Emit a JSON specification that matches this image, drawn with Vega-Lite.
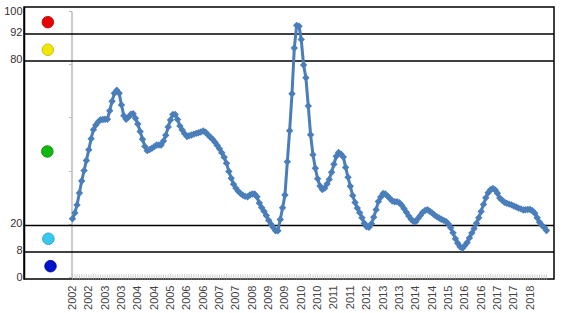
{
  "$schema": "https://vega.github.io/schema/vega-lite/v6.json",
  "width": 530,
  "height": 272,
  "autosize": "none",
  "padding": {"left": 24, "top": 7, "right": 12, "bottom": 34},
  "background": "white",
  "config": {
    "view": {"stroke": "#000", "strokeWidth": 1.5},
    "font": "Liberation Sans",
    "axis": {"grid": false}
  },
  "datasets": {
    "bands": [{"v": 8}, {"v": 20}, {"v": 80}, {"v": 92}],
    "dots": [
      {"band": "red", "px": 4.5, "v": 95.5},
      {"band": "yellow", "px": 4.5, "v": 85},
      {"band": "green", "px": 4.4, "v": 47},
      {"band": "cyan", "px": 4.6, "v": 14},
      {"band": "blue", "px": 5.0, "v": 3.8}
    ],
    "series": [
      {"d": "2002-01-01", "v": 21.9}, {"d": "2002-02-01", "v": 24.1}, {"d": "2002-03-01", "v": 27.1}, {"d": "2002-04-01", "v": 31.6}, {"d": "2002-05-01", "v": 36.1}, {"d": "2002-06-01", "v": 40.0}, {"d": "2002-07-01", "v": 43.8}, {"d": "2002-08-01", "v": 47.8}, {"d": "2002-09-01", "v": 52.0}, {"d": "2002-10-01", "v": 55.4}, {"d": "2002-11-01", "v": 57.1}, {"d": "2002-12-01", "v": 58.3},
      {"d": "2003-01-01", "v": 59.1}, {"d": "2003-02-01", "v": 59.2}, {"d": "2003-03-01", "v": 59.3}, {"d": "2003-04-01", "v": 59.3}, {"d": "2003-05-01", "v": 62.5}, {"d": "2003-06-01", "v": 66.1}, {"d": "2003-07-01", "v": 69.1}, {"d": "2003-08-01", "v": 70.2}, {"d": "2003-09-01", "v": 69.1}, {"d": "2003-10-01", "v": 64.7}, {"d": "2003-11-01", "v": 60.6}, {"d": "2003-12-01", "v": 59.3},
      {"d": "2004-01-01", "v": 60.1}, {"d": "2004-02-01", "v": 61.2}, {"d": "2004-03-01", "v": 61.4}, {"d": "2004-04-01", "v": 59.7}, {"d": "2004-05-01", "v": 57.5}, {"d": "2004-06-01", "v": 54.7}, {"d": "2004-07-01", "v": 51.8}, {"d": "2004-08-01", "v": 49.1}, {"d": "2004-09-01", "v": 47.5}, {"d": "2004-10-01", "v": 47.9}, {"d": "2004-11-01", "v": 48.4}, {"d": "2004-12-01", "v": 49.0},
      {"d": "2005-01-01", "v": 49.6}, {"d": "2005-02-01", "v": 49.6}, {"d": "2005-03-01", "v": 49.6}, {"d": "2005-04-01", "v": 51.1}, {"d": "2005-05-01", "v": 53.3}, {"d": "2005-06-01", "v": 56.4}, {"d": "2005-07-01", "v": 59.0}, {"d": "2005-08-01", "v": 61.1}, {"d": "2005-09-01", "v": 61.1}, {"d": "2005-10-01", "v": 59.2}, {"d": "2005-11-01", "v": 56.8}, {"d": "2005-12-01", "v": 55.3},
      {"d": "2006-01-01", "v": 53.9}, {"d": "2006-02-01", "v": 52.8}, {"d": "2006-03-01", "v": 53.1}, {"d": "2006-04-01", "v": 53.4}, {"d": "2006-05-01", "v": 53.7}, {"d": "2006-06-01", "v": 54.0}, {"d": "2006-07-01", "v": 54.2}, {"d": "2006-08-01", "v": 54.5}, {"d": "2006-09-01", "v": 54.9}, {"d": "2006-10-01", "v": 54.4}, {"d": "2006-11-01", "v": 53.5}, {"d": "2006-12-01", "v": 52.6},
      {"d": "2007-01-01", "v": 51.8}, {"d": "2007-02-01", "v": 50.7}, {"d": "2007-03-01", "v": 49.5}, {"d": "2007-04-01", "v": 48.2}, {"d": "2007-05-01", "v": 46.7}, {"d": "2007-06-01", "v": 45.0}, {"d": "2007-07-01", "v": 42.8}, {"d": "2007-08-01", "v": 39.7}, {"d": "2007-09-01", "v": 37.1}, {"d": "2007-10-01", "v": 34.9}, {"d": "2007-11-01", "v": 33.4}, {"d": "2007-12-01", "v": 32.2},
      {"d": "2008-01-01", "v": 31.4}, {"d": "2008-02-01", "v": 30.7}, {"d": "2008-03-01", "v": 30.3}, {"d": "2008-04-01", "v": 30.2}, {"d": "2008-05-01", "v": 30.8}, {"d": "2008-06-01", "v": 31.2}, {"d": "2008-07-01", "v": 31.2}, {"d": "2008-08-01", "v": 30.2}, {"d": "2008-09-01", "v": 27.8}, {"d": "2008-10-01", "v": 26.1}, {"d": "2008-11-01", "v": 24.7}, {"d": "2008-12-01", "v": 23.1},
      {"d": "2009-01-01", "v": 21.3}, {"d": "2009-02-01", "v": 19.8}, {"d": "2009-03-01", "v": 18.6}, {"d": "2009-04-01", "v": 17.4}, {"d": "2009-05-01", "v": 17.4}, {"d": "2009-06-01", "v": 21.6}, {"d": "2009-07-01", "v": 26.0}, {"d": "2009-08-01", "v": 30.8}, {"d": "2009-09-01", "v": 43.3}, {"d": "2009-10-01", "v": 55.0}, {"d": "2009-11-01", "v": 68.9}, {"d": "2009-12-01", "v": 86.1},
      {"d": "2010-01-01", "v": 94.6}, {"d": "2010-02-01", "v": 94.3}, {"d": "2010-03-01", "v": 89.3}, {"d": "2010-04-01", "v": 79.7}, {"d": "2010-05-01", "v": 74.9}, {"d": "2010-06-01", "v": 64.3}, {"d": "2010-07-01", "v": 53.5}, {"d": "2010-08-01", "v": 46.0}, {"d": "2010-09-01", "v": 40.9}, {"d": "2010-10-01", "v": 36.9}, {"d": "2010-11-01", "v": 34.2}, {"d": "2010-12-01", "v": 32.9},
      {"d": "2011-01-01", "v": 33.4}, {"d": "2011-02-01", "v": 35.0}, {"d": "2011-03-01", "v": 36.7}, {"d": "2011-04-01", "v": 39.4}, {"d": "2011-05-01", "v": 42.4}, {"d": "2011-06-01", "v": 45.4}, {"d": "2011-07-01", "v": 46.8}, {"d": "2011-08-01", "v": 46.2}, {"d": "2011-09-01", "v": 45.1}, {"d": "2011-10-01", "v": 41.2}, {"d": "2011-11-01", "v": 37.5}, {"d": "2011-12-01", "v": 34.1},
      {"d": "2012-01-01", "v": 30.6}, {"d": "2012-02-01", "v": 28.0}, {"d": "2012-03-01", "v": 25.9}, {"d": "2012-04-01", "v": 24.2}, {"d": "2012-05-01", "v": 22.3}, {"d": "2012-06-01", "v": 20.2}, {"d": "2012-07-01", "v": 18.9}, {"d": "2012-08-01", "v": 18.7}, {"d": "2012-09-01", "v": 20.0}, {"d": "2012-10-01", "v": 22.5}, {"d": "2012-11-01", "v": 25.3}, {"d": "2012-12-01", "v": 28.4},
      {"d": "2013-01-01", "v": 30.1}, {"d": "2013-02-01", "v": 31.4}, {"d": "2013-03-01", "v": 31.2}, {"d": "2013-04-01", "v": 30.4}, {"d": "2013-05-01", "v": 29.5}, {"d": "2013-06-01", "v": 28.6}, {"d": "2013-07-01", "v": 28.3}, {"d": "2013-08-01", "v": 28.3}, {"d": "2013-09-01", "v": 27.9}, {"d": "2013-10-01", "v": 27.0}, {"d": "2013-11-01", "v": 25.7}, {"d": "2013-12-01", "v": 24.3},
      {"d": "2014-01-01", "v": 22.9}, {"d": "2014-02-01", "v": 21.7}, {"d": "2014-03-01", "v": 20.9}, {"d": "2014-04-01", "v": 20.8}, {"d": "2014-05-01", "v": 22.0}, {"d": "2014-06-01", "v": 23.1}, {"d": "2014-07-01", "v": 24.3}, {"d": "2014-08-01", "v": 25.0}, {"d": "2014-09-01", "v": 25.3}, {"d": "2014-10-01", "v": 24.7}, {"d": "2014-11-01", "v": 24.1}, {"d": "2014-12-01", "v": 23.3},
      {"d": "2015-01-01", "v": 22.7}, {"d": "2015-02-01", "v": 22.2}, {"d": "2015-03-01", "v": 21.7}, {"d": "2015-04-01", "v": 21.3}, {"d": "2015-05-01", "v": 20.9}, {"d": "2015-06-01", "v": 19.9}, {"d": "2015-07-01", "v": 18.5}, {"d": "2015-08-01", "v": 16.6}, {"d": "2015-09-01", "v": 14.4}, {"d": "2015-10-01", "v": 12.7}, {"d": "2015-11-01", "v": 11.4}, {"d": "2015-12-01", "v": 10.8},
      {"d": "2016-01-01", "v": 11.8}, {"d": "2016-02-01", "v": 13.0}, {"d": "2016-03-01", "v": 14.7}, {"d": "2016-04-01", "v": 16.5}, {"d": "2016-05-01", "v": 18.2}, {"d": "2016-06-01", "v": 20.2}, {"d": "2016-07-01", "v": 22.3}, {"d": "2016-08-01", "v": 24.6}, {"d": "2016-09-01", "v": 27.3}, {"d": "2016-10-01", "v": 29.8}, {"d": "2016-11-01", "v": 31.7}, {"d": "2016-12-01", "v": 32.8},
      {"d": "2017-01-01", "v": 33.3}, {"d": "2017-02-01", "v": 32.7}, {"d": "2017-03-01", "v": 31.5}, {"d": "2017-04-01", "v": 29.7}, {"d": "2017-05-01", "v": 28.9}, {"d": "2017-06-01", "v": 28.1}, {"d": "2017-07-01", "v": 27.7}, {"d": "2017-08-01", "v": 27.4}, {"d": "2017-09-01", "v": 27.1}, {"d": "2017-10-01", "v": 26.7}, {"d": "2017-11-01", "v": 26.3}, {"d": "2017-12-01", "v": 25.9},
      {"d": "2018-01-01", "v": 25.6}, {"d": "2018-02-01", "v": 25.2}, {"d": "2018-03-01", "v": 25.3}, {"d": "2018-04-01", "v": 25.4}, {"d": "2018-05-01", "v": 25.4}, {"d": "2018-06-01", "v": 24.9}, {"d": "2018-07-01", "v": 24.0}, {"d": "2018-08-01", "v": 22.3}, {"d": "2018-09-01", "v": 20.6}, {"d": "2018-10-01", "v": 19.5}, {"d": "2018-11-01", "v": 18.6}, {"d": "2018-12-01", "v": 17.5}
    ]
  },
  "layer": [
    {
      "layer": [
        {
          "data": {"name": "bands"},
          "mark": {"type": "rule", "color": "#000", "strokeWidth": 1.5},
          "encoding": {
            "y": {
              "field": "v",
              "type": "quantitative",
              "scale": {"domain": [0, 8, 20, 80, 92, 100], "range": [272, 245, 218.5, 54, 27, 0], "nice": false, "zero": false},
              "axis": {
                "orient": "left",
                "values": [0, 8, 20, 80, 92, 100],
                "title": null,
                "domain": true,
                "domainColor": "#000",
                "domainWidth": 1.5,
                "ticks": false,
                "tickSize": 0,
                "labelPadding": 2,
                "labelFont": "Liberation Sans",
                "labelFontSize": 11,
                "labelColor": "#3a3030",
                "labelOffset": {"condition": {"test": "datum.value == 100", "value": 4}, "value": -2}
              }
            }
          }
        },
        {
          "data": {"name": "dots"},
          "mark": {"type": "circle", "opacity": 1, "size": 135, "strokeWidth": 0.8},
          "encoding": {
            "x": {"field": "px", "type": "quantitative", "scale": {"domain": [0, 100]}, "axis": null},
            "y": {"field": "v", "type": "quantitative"},
            "color": {
              "field": "band",
              "type": "nominal",
              "scale": {"domain": ["red", "yellow", "green", "cyan", "blue"], "range": ["#e80000", "#f0e800", "#10b810", "#38c8ec", "#0010d0"]},
              "legend": null
            },
            "stroke": {
              "field": "band",
              "type": "nominal",
              "scale": {"domain": ["red", "yellow", "green", "cyan", "blue"], "range": ["#b00000", "#c0b000", "#008800", "#1898c0", "#000090"]},
              "legend": null
            }
          }
        }
      ]
    },
    {
      "data": {"name": "series"},
      "encoding": {
        "x": {
          "field": "d",
          "type": "temporal",
          "scale": {
            "type": "utc",
            "domain": [{"year": 2002, "month": 1, "date": 1, "utc": true}, {"year": 2018, "month": 12, "date": 1, "utc": true}],
            "range": [48.5, 522.5],
            "nice": false
          },
          "axis": {
            "orient": "bottom",
            "title": null,
            "domain": false,
            "ticks": false,
            "tickSize": 0,
            "labelPadding": 6,
            "labelAngle": -90,
            "labelFont": "Liberation Sans",
            "labelFontSize": 11,
            "labelColor": "#444",
            "labelOverlap": false,
            "labelFlush": false,
            "format": "%Y",
            "values": [
              {"year": 2002, "month": 1, "date": 1, "utc": true},
              {"year": 2002, "month": 8, "date": 1, "utc": true},
              {"year": 2003, "month": 3, "date": 1, "utc": true},
              {"year": 2003, "month": 10, "date": 1, "utc": true},
              {"year": 2004, "month": 5, "date": 1, "utc": true},
              {"year": 2004, "month": 12, "date": 1, "utc": true},
              {"year": 2005, "month": 7, "date": 1, "utc": true},
              {"year": 2006, "month": 2, "date": 1, "utc": true},
              {"year": 2006, "month": 9, "date": 1, "utc": true},
              {"year": 2007, "month": 4, "date": 1, "utc": true},
              {"year": 2007, "month": 11, "date": 1, "utc": true},
              {"year": 2008, "month": 6, "date": 1, "utc": true},
              {"year": 2009, "month": 1, "date": 1, "utc": true},
              {"year": 2009, "month": 8, "date": 1, "utc": true},
              {"year": 2010, "month": 3, "date": 1, "utc": true},
              {"year": 2010, "month": 10, "date": 1, "utc": true},
              {"year": 2011, "month": 5, "date": 1, "utc": true},
              {"year": 2011, "month": 12, "date": 1, "utc": true},
              {"year": 2012, "month": 7, "date": 1, "utc": true},
              {"year": 2013, "month": 2, "date": 1, "utc": true},
              {"year": 2013, "month": 9, "date": 1, "utc": true},
              {"year": 2014, "month": 4, "date": 1, "utc": true},
              {"year": 2014, "month": 11, "date": 1, "utc": true},
              {"year": 2015, "month": 6, "date": 1, "utc": true},
              {"year": 2016, "month": 1, "date": 1, "utc": true},
              {"year": 2016, "month": 8, "date": 1, "utc": true},
              {"year": 2017, "month": 3, "date": 1, "utc": true},
              {"year": 2017, "month": 10, "date": 1, "utc": true},
              {"year": 2018, "month": 5, "date": 1, "utc": true}
            ]
          }
        }
      },
      "layer": [
        {
          "mark": {"type": "line", "color": "#4a7ebb", "strokeWidth": 3, "point": {"shape": "diamond", "filled": true, "size": 55, "color": "#4a7ebb"}},
          "encoding": {
            "y": {
              "field": "v",
              "type": "quantitative",
              "scale": {"domain": [0, 100], "range": [270, 4], "nice": false, "zero": false},
              "axis": {
                "orient": "left",
                "offset": -47.5,
                "title": null,
                "labels": false,
                "values": [0, 10, 20, 30, 40, 50, 60, 70, 80, 90, 100],
                "domainColor": "#bbbbbb",
                "domainWidth": 1.5,
                "tickColor": "#bbbbbb",
                "tickSize": 3
              }
            }
          }
        },
        {
          "mark": {"type": "tick", "orient": "vertical", "size": 5, "thickness": 1, "color": "#b8b8b8"},
          "encoding": {
            "y": {"datum": 0, "type": "quantitative"}
          }
        }
      ]
    }
  ],
  "resolve": {"scale": {"x": "independent", "y": "independent"}}
}
